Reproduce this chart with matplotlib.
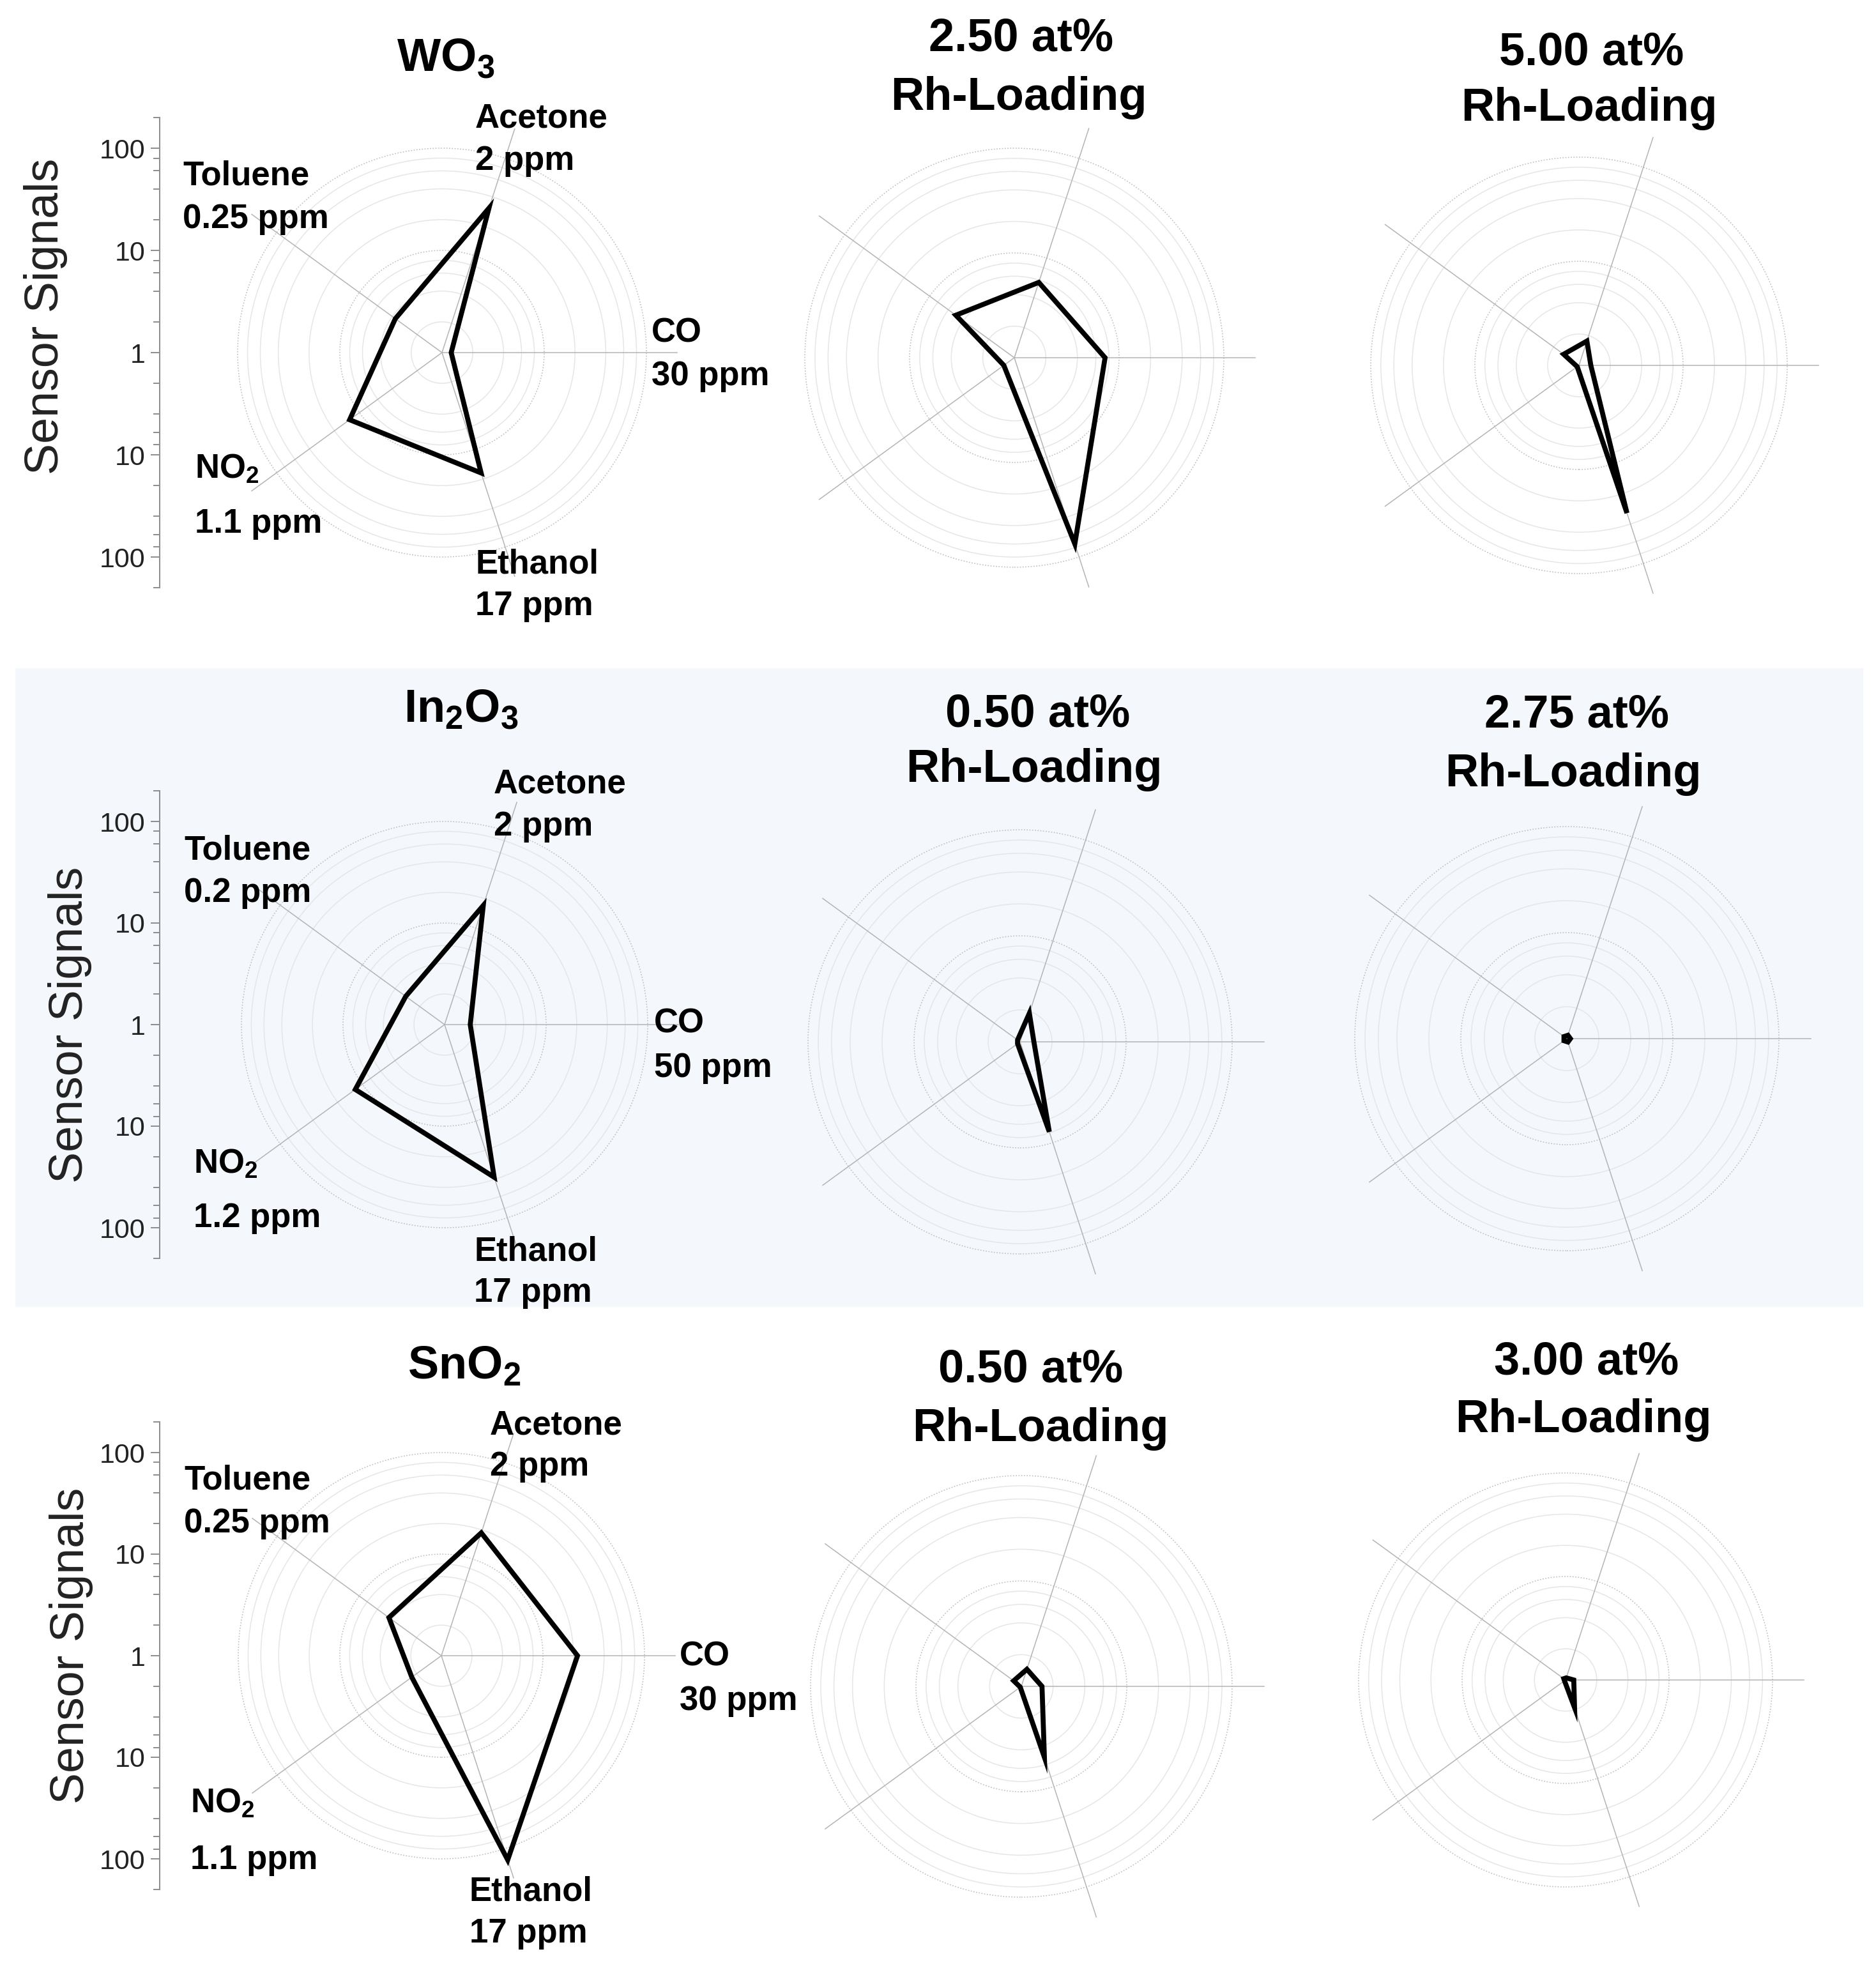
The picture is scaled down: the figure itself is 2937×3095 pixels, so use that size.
import numpy as np
import matplotlib
matplotlib.use("Agg")
import matplotlib.pyplot as plt
from matplotlib.patches import Circle, Polygon, Rectangle

plt.rcParams['font.family'] = ['Liberation Sans', 'DejaVu Sans']
plt.rcParams['mathtext.fontset'] = 'custom'
plt.rcParams['mathtext.rm'] = 'Liberation Sans'
plt.rcParams['mathtext.bf'] = 'Liberation Sans:bold'
plt.rcParams['mathtext.default'] = 'bf'

# ---- data ----
gases = ['CO', 'Acetone', 'Toluene', 'NO$_2$', 'Ethanol']
angles_deg = [0, 72, 144, 216, 288]

wo3_conc = ['30 ppm', '2 ppm', '0.25 ppm', '1.1 ppm', '17 ppm']
in2o3_conc = ['50 ppm', '2 ppm', '0.2 ppm', '1.2 ppm', '17 ppm']
sno2_conc = ['30 ppm', '2 ppm', '0.25 ppm', '1.1 ppm', '17 ppm']

# sensor signals, order: CO, Acetone, Toluene, NO2, Ethanol
wo3_pure = [1.23, 30.6, 3.67, 13.1, 17.3]
wo3_rh250 = [7.35, 5.7, 4.9, 1.33, 74]
wo3_rh500 = [1.3, 1.76, 1.52, 1.05, 31]
in2o3_pure = [1.79, 17.1, 2.97, 12.2, 38]
in2o3_rh050 = [1.35, 1.92, 1.07, 1.07, 7.8]
in2o3_rh275 = [1.08, 1.08, 1.08, 1.08, 1.08]
sno2_pure = [21.9, 18.7, 4.35, 2.29, 130]
sno2_rh050 = [1.57, 1.48, 1.23, 1.03, 5.1]
sno2_rh300 = [1.2, 1.05, 1.05, 1.03, 1.91]

base_titles = ['WO$_3$', 'In$_2$O$_3$', 'SnO$_2$']
rh_titles = [['2.50 at%', '5.00 at%'], ['0.50 at%', '2.75 at%'], ['0.50 at%', '3.00 at%']]

ring_values = [2, 4, 6, 8, 10, 20, 40, 60, 80, 100]
axis_max = 200
tick_major = [-2, -1, 0, 1, 2]
tick_labels = ['100', '10', '1', '10', '100']
tick_minor = [2, 4, 6, 8, 20, 40, 60, 80, 200]

# ---- layout (pixels) ----
FW, FH = 2937, 3095
DPI = 100
W = 480

rows = [
    dict(sig=[wo3_pure, wo3_rh250, wo3_rh500], conc=wo3_conc,
         centers=[(692, 552), (1588, 560), (2472, 572)], scales=[160, 164, 163],
         base_title=(698, 111), rh_pos=[((1599, 80), (1595, 172)), ((2492, 102), (2488, 189))],
         ylabel=(72, 495),
         lab=[(1020, 536, 603), (744, 199, 266), (286, 290, 357), (305, 749, 834), (744, 898, 963)]),
    dict(sig=[in2o3_pure, in2o3_rh050, in2o3_rh275], conc=in2o3_conc,
         centers=[(696, 1604), (1597, 1631), (2453, 1626)], scales=[159, 166, 166],
         base_title=(722, 1130), rh_pos=[((1625, 1137), (1619, 1224)), ((2469, 1139), (2463, 1231))],
         ylabel=(110, 1604),
         lab=[(1024, 1616, 1686), (773, 1241, 1308), (288, 1345, 1412), (303, 1837, 1921), (742, 1973, 2038)]),
    dict(sig=[sno2_pure, sno2_rh050, sno2_rh300], conc=sno2_conc,
         centers=[(691, 2592), (1599, 2640), (2451, 2630)], scales=[159, 165, 162],
         base_title=(727, 2159), rh_pos=[((1614, 2164), (1629, 2256)), ((2484, 2152), (2479, 2242))],
         ylabel=(112, 2576),
         lab=[(1064, 2608, 2677), (767, 2245, 2310), (288, 2332, 2399), (298, 2838, 2926), (735, 2975, 3041)]),
]


def fx(x):
    return x / FW


def fy(y):
    return 1 - y / FH


fig = plt.figure(figsize=(FW / DPI, FH / DPI), dpi=DPI)
fig.patch.set_facecolor('white')

# light band behind the middle row
fig.add_artist(Rectangle((fx(24), fy(2046)), fx(2917) - fx(24), fy(1046) - fy(2046),
                         transform=fig.transFigure, facecolor='#f4f7fc', edgecolor='none', zorder=-5))


def radar(cx, cy, s, values, left_axis=False):
    ax = fig.add_axes([fx(cx - W), fy(cy + W), 2 * W / FW, 2 * W / FH])
    lim = W / s
    ax.set_xlim(-lim, lim)
    ax.set_ylim(-lim, lim)
    ax.patch.set_visible(False)

    for v in ring_values:
        if v in (10, 100):
            ax.add_patch(Circle((0, 0), np.log10(v), fill=False, ec='#c0c0c0', lw=1.1,
                                ls=(0, (1.2, 1.6))))
        else:
            ax.add_patch(Circle((0, 0), np.log10(v), fill=False, ec='#e6e6e6', lw=1.1))

    rmax = np.log10(axis_max)
    th = np.deg2rad(angles_deg)
    for t in th:
        ax.plot([0, rmax * np.cos(t)], [0, rmax * np.sin(t)], color='#b4b4b4', lw=1.1)

    r = np.log10(values)
    pts = np.column_stack([r * np.cos(th), r * np.sin(th)])
    ax.add_patch(Polygon(pts, closed=True, fill=False, ec='black', lw=5.6,
                         joinstyle='miter', zorder=5))

    for side in ['top', 'right', 'bottom']:
        ax.spines[side].set_visible(False)
    ax.set_xticks([])
    if left_axis:
        sp = ax.spines['left']
        sp.set_position(('data', (250 - cx) / s))
        sp.set_bounds(-rmax, rmax)
        sp.set_color('#8f8f8f')
        sp.set_linewidth(1.44)
        ax.set_yticks(tick_major)
        ax.set_yticklabels(tick_labels)
        mt = np.log10(tick_minor)
        ax.set_yticks(np.concatenate([-mt, mt]), minor=True)
        ax.tick_params(axis='y', which='major', length=10, width=1.44, color='#8f8f8f',
                       labelsize=31, labelcolor='#222222', pad=6)
        ax.tick_params(axis='y', which='minor', length=7, width=1.44, color='#8f8f8f')
    else:
        ax.spines['left'].set_visible(False)
        ax.set_yticks([])
    return ax


for i, row in enumerate(rows):
    for j in range(3):
        cx, cy = row['centers'][j]
        radar(cx, cy, row['scales'][j], row['sig'][j], left_axis=(j == 0))

    bx, by = row['base_title']
    fig.text(fx(bx), fy(by), base_titles[i], ha='center', va='baseline',
             fontsize=52, fontweight='bold')
    for k in range(2):
        (x1, y1), (x2, y2) = row['rh_pos'][k]
        fig.text(fx(x1), fy(y1), rh_titles[i][k], ha='center', va='baseline',
                 fontsize=52, fontweight='bold')
        fig.text(fx(x2), fy(y2), 'Rh-Loading', ha='center', va='baseline',
                 fontsize=52, fontweight='bold')

    lx, ly = row['ylabel']
    fig.text(fx(lx), fy(ly), 'Sensor Signals', rotation=90, ha='center', va='center',
             fontsize=53, color='#222222')

    for g, c, (x, y1, y2) in zip(gases, row['conc'], row['lab']):
        fig.text(fx(x), fy(y1), g, ha='left', va='baseline', fontsize=38, fontweight='bold')
        fig.text(fx(x), fy(y2), c, ha='left', va='baseline', fontsize=38, fontweight='bold')

fig.savefig('out.png', dpi=DPI)
